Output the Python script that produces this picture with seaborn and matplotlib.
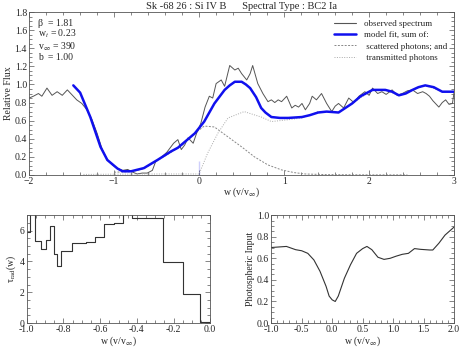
import numpy as np
import pandas as pd
import matplotlib
matplotlib.use("Agg")
import matplotlib.pyplot as plt
from matplotlib.ticker import AutoMinorLocator, MultipleLocator, FormatStrFormatter
from matplotlib.lines import Line2D
import seaborn as sns

# observed spectrum
obs_w = [-2.0, -1.95, -1.89, -1.85, -1.79, -1.73, -1.67, -1.61, -1.55, -1.49,
         -1.44, -1.38, -1.32, -1.26, -1.2, -1.14, -1.08, -1.02, -0.96, -0.9,
         -0.84, -0.78, -0.73, -0.67, -0.61, -0.55, -0.51, -0.45, -0.38, -0.3,
         -0.25, -0.21, -0.17, -0.13, -0.07, -0.03, 0.02, 0.07, 0.12, 0.16,
         0.2, 0.26, 0.3, 0.36, 0.42, 0.46, 0.5, 0.56, 0.6, 0.63,
         0.69, 0.75, 0.81, 0.85, 0.89, 0.93, 0.97, 1.03, 1.09, 1.13,
         1.17, 1.21, 1.25, 1.3, 1.33, 1.38, 1.44, 1.5, 1.56, 1.6,
         1.64, 1.7, 1.76, 1.82, 1.88, 1.95, 2.0, 2.04, 2.1, 2.15,
         2.2, 2.27, 2.33, 2.39, 2.45, 2.51, 2.57, 2.63, 2.67, 2.71,
         2.75, 2.78, 2.82, 2.86, 2.9, 2.94, 2.98, 3.0]
obs_f = [0.85, 0.87, 0.9, 0.87, 0.96, 0.88, 0.92, 0.88, 0.94, 0.88,
         0.83, 0.79, 0.72, 0.61, 0.46, 0.28, 0.165, 0.11, 0.07, 0.05,
         0.06, 0.03, 0.01, 0.02, 0.02, 0.05, 0.15, 0.19, 0.25, 0.35,
         0.39, 0.28, 0.33, 0.41, 0.35, 0.46, 0.57, 0.75, 0.87, 0.85,
         1.01, 1.05, 0.98, 1.21, 1.16, 1.18, 1.12, 1.05, 1.12, 1.21,
         1.01, 0.9, 0.81, 0.83, 0.8, 0.83, 0.81, 0.87, 0.74, 0.77,
         0.75, 0.79, 0.72, 0.79, 0.87, 0.83, 0.9, 0.79, 0.7, 0.76,
         0.79, 0.74, 0.85, 0.8, 0.87, 0.92, 0.88, 0.96, 0.9, 0.92,
         0.89, 0.94, 0.88, 0.9, 0.93, 0.94, 0.9, 0.92, 0.9, 0.87,
         0.82, 0.79, 0.75, 0.8, 0.83, 0.78, 0.79, 0.92]

# model fit
mod_w = [-1.48, -1.4, -1.28, -1.16, -1.08, -0.96, -0.9, -0.8, -0.65, -0.49,
         -0.33, -0.25, -0.05, 0.06, 0.18, 0.3, 0.36, 0.42, 0.5, 0.55,
         0.6, 0.67, 0.73, 0.78, 0.85, 0.95, 1.05, 1.21, 1.3, 1.4,
         1.5, 1.64, 1.8, 1.9, 2.04, 2.19, 2.27, 2.35, 2.43, 2.51,
         2.58, 2.66, 2.76, 2.86, 3.0]
mod_f = [0.99, 0.91, 0.64, 0.31, 0.165, 0.07, 0.04, 0.04, 0.075, 0.165,
         0.26, 0.3, 0.46, 0.59, 0.79, 0.94, 0.99, 1.03, 1.03, 1.0,
         0.96, 0.86, 0.74, 0.69, 0.64, 0.63, 0.63, 0.64, 0.66, 0.69,
         0.7, 0.69, 0.79, 0.87, 0.94, 0.94, 0.92, 0.88, 0.9, 0.94,
         0.97, 0.99, 0.97, 0.92, 0.92]

# scattered photons
sca_w = [-1.0, -0.8, -0.65, -0.49, -0.33, -0.2, -0.05, 0.06, 0.18, 0.34,
         0.5, 0.65, 0.81, 0.97, 1.12, 1.25, 1.5, 2.0, 2.45]
sca_f = [0.03, 0.035, 0.07, 0.16, 0.25, 0.33, 0.46, 0.54, 0.53, 0.42,
         0.31, 0.2, 0.11, 0.055, 0.025, 0.01, 0.003, 0.0, 0.0]

# transmitted photons
tra_w = [-1.36, -1.0, -0.5, 0.0, 0.1, 0.22, 0.34, 0.53, 0.73, 0.85,
         1.05, 1.21, 1.4, 1.64, 1.8, 2.04, 2.19, 2.35, 2.51, 2.66,
         2.86, 3.0]
tra_f = [0.005, 0.008, 0.01, 0.01, 0.24, 0.46, 0.63, 0.7, 0.64, 0.59,
         0.61, 0.63, 0.7, 0.69, 0.79, 0.94, 0.94, 0.88, 0.94, 0.99,
         0.92, 0.92]

# radial optical depth (step function)
tau_w = [-1.0, -0.985, -0.955, -0.924, -0.895, -0.873, -0.851, -0.833, -0.811, -0.755,
         -0.676, -0.627, -0.578, -0.527, -0.476, -0.427, -0.255, -0.151, -0.055, 0.0]
tau_v = [5.9, 8.0, 5.3, 4.8, 5.4, 6.3, 4.45, 3.7, 4.65, 5.2,
         5.25, 5.55, 6.4, 6.5, 8.0, 6.8, 3.95, 1.9, 0.05, 0.05]

# photospheric input
pho_w = [-1.0, -0.75, -0.6, -0.5, -0.4, -0.3, -0.2, -0.1, -0.05, 0.0,
         0.05, 0.1, 0.2, 0.3, 0.4, 0.5, 0.57, 0.65, 0.75, 0.85,
         0.95, 1.05, 1.15, 1.25, 1.35, 1.45, 1.6, 1.65, 1.75, 1.85, 2.0]
pho_f = [0.70, 0.71, 0.68, 0.67, 0.646, 0.585, 0.48, 0.34, 0.25, 0.215,
         0.2, 0.25, 0.415, 0.54, 0.646, 0.69, 0.71, 0.68, 0.61, 0.59,
         0.6, 0.62, 0.637, 0.646, 0.69, 0.683, 0.677, 0.677, 0.74, 0.815, 0.89]

sns.set_style("ticks")
plt.rcParams["font.family"] = ["Liberation Serif", "DejaVu Serif"]
plt.rcParams["mathtext.fontset"] = "stix"
plt.rcParams["font.size"] = 7
plt.rcParams["axes.linewidth"] = 0.6


def style_axes(ax):
    ax.tick_params(which="both", direction="in", top=True, right=True,
                   labelsize=7, width=0.5, color="#555555", pad=1.5)
    ax.tick_params(which="major", length=3.5)
    ax.tick_params(which="minor", length=2)
    ax.xaxis.set_minor_locator(AutoMinorLocator())
    ax.yaxis.set_minor_locator(AutoMinorLocator())
    for s in ax.spines.values():
        s.set_color("#555555")


fig = plt.figure(figsize=(4.62, 3.47), dpi=100)
ax = fig.add_axes([0.063, 0.496, 0.920, 0.469])
ax1 = fig.add_axes([0.058, 0.069, 0.397, 0.311])
ax2 = fig.add_axes([0.587, 0.069, 0.396, 0.311])

sns.lineplot(x=obs_w, y=obs_f, ax=ax, color="#555555", lw=0.7, sort=False)
sns.lineplot(x=sca_w, y=sca_f, ax=ax, color="#888888", lw=0.7,
             linestyle=(0, (2, 1.5)), sort=False)
sns.lineplot(x=tra_w, y=tra_f, ax=ax, color="#aaaaaa", lw=0.7,
             linestyle=(0, (1, 1.5)), sort=False)
sns.lineplot(x=mod_w, y=mod_f, ax=ax, color="#1010ee", lw=1.8, sort=False)
sns.lineplot(x=[0, 0], y=[0, 0.15], ax=ax, color="#1010ee", lw=1.8)

ax.set_xlim(-2, 3)
ax.set_ylim(0, 1.8)
ax.xaxis.set_major_locator(MultipleLocator(1))
ax.yaxis.set_major_locator(MultipleLocator(0.2))
ax.yaxis.set_major_formatter(FormatStrFormatter("%.1f"))
style_axes(ax)
ax.set_xlabel(r"w (v/v$_\infty$)", fontsize=7, labelpad=0)
ax.set_ylabel("Relative Flux", fontsize=7, labelpad=1)
ax.set_title("Sk -68 26 : Si IV B      Spectral Type : BC2 Ia", fontsize=7.5, pad=2)

ax.text(0.02, 0.96, "β  = 1.81\nw$_t$ = 0.23\nv$_\\infty$ = 390\nb  = 1.00",
        transform=ax.transAxes, va="top", ha="left", fontsize=7, linespacing=1.0)

handles = [Line2D([], [], color="#555555", lw=0.8),
           Line2D([], [], color="#1010ee", lw=1.8),
           Line2D([], [], color="#888888", lw=0.7, linestyle=(0, (2, 1.5))),
           Line2D([], [], color="#aaaaaa", lw=0.7, linestyle=(0, (1, 1.5)))]
labels = ["observed spectrum", "model fit, sum of:",
          " scattered photons; and", " transmitted photons"]
ax.legend(handles, labels, loc="upper right", frameon=False, fontsize=6.5,
          handlelength=2.5, labelspacing=0.35, borderaxespad=0.4)

sns.lineplot(x=tau_w, y=tau_v, ax=ax1, color="#333333", lw=0.8,
             drawstyle="steps-post", sort=False)
ax1.set_xlim(-1.0, 0.0)
ax1.set_ylim(0, 7)
ax1.xaxis.set_major_locator(MultipleLocator(0.2))
ax1.yaxis.set_major_locator(MultipleLocator(2))
ax1.xaxis.set_major_formatter(FormatStrFormatter("%.1f"))
style_axes(ax1)
ax1.set_xlabel(r"w (v/v$_\infty$)", fontsize=7, labelpad=0)
ax1.set_ylabel(r"τ$_{\rm rad}$(w)", fontsize=7, labelpad=1)

sns.lineplot(x=pho_w, y=pho_f, ax=ax2, color="#333333", lw=0.8, sort=False)
ax2.set_xlim(-1.0, 2.0)
ax2.set_ylim(0, 1.0)
ax2.xaxis.set_major_locator(MultipleLocator(0.5))
ax2.yaxis.set_major_locator(MultipleLocator(0.2))
ax2.xaxis.set_major_formatter(FormatStrFormatter("%.1f"))
ax2.yaxis.set_major_formatter(FormatStrFormatter("%.1f"))
style_axes(ax2)
ax2.set_xlabel(r"w (v/v$_\infty$)", fontsize=7, labelpad=0)
ax2.set_ylabel("Photospheric Input", fontsize=7, labelpad=1)

fig.savefig("out.png", dpi=100)
plt.close(fig)
